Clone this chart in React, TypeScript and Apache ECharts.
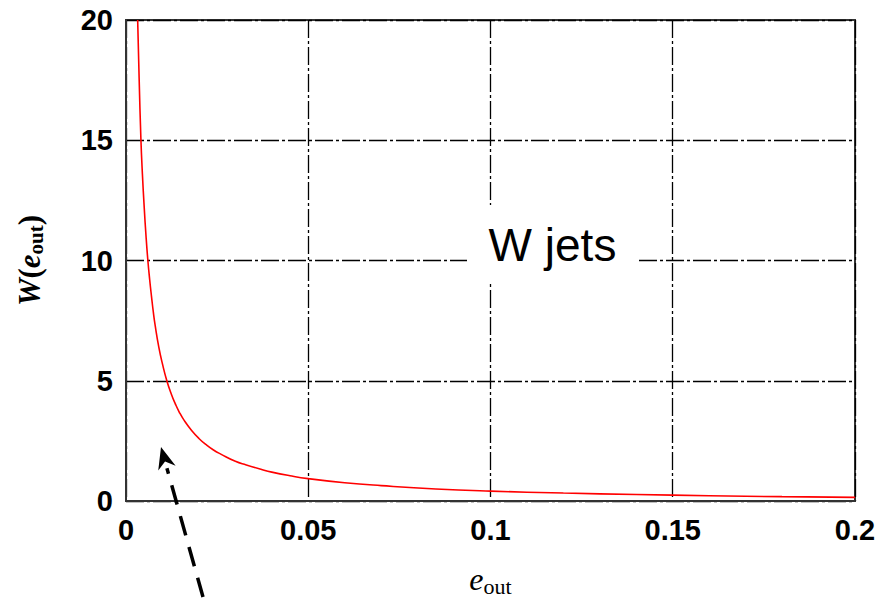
import React, { useEffect, useRef } from "react";
import * as echarts from "echarts";

const eOut: number[] = [0.0032, 0.0036, 0.0041, 0.0045, 0.005, 0.0055, 0.006, 0.0065, 0.007, 0.0075, 0.008, 0.009, 0.01, 0.0112, 0.0125, 0.0135, 0.0146, 0.016, 0.018, 0.02, 0.022, 0.024, 0.026, 0.03, 0.033, 0.037, 0.04, 0.045, 0.05, 0.06, 0.07, 0.085, 0.1, 0.12, 0.14, 0.16, 0.18, 0.2];
const wValues: number[] = [20, 17.6, 15, 13.6, 12.2, 11, 10, 9.2, 8.5, 7.85, 7.3, 6.4, 5.7, 5, 4.42, 4.05, 3.7, 3.34, 2.93, 2.6, 2.34, 2.12, 1.95, 1.65, 1.5, 1.32, 1.2, 1.05, 0.93, 0.76, 0.64, 0.5, 0.41, 0.33, 0.27, 0.22, 0.18, 0.15];
const xTicks = { min: 0, max: 0.2, interval: 0.05 };
const yTicks = { min: 0, max: 20, interval: 5 };
const annotation = "W jets";

export default function App() {
  const ref = useRef<HTMLDivElement>(null);
  useEffect(() => {
    if (!ref.current) return;
    const chart = echarts.init(ref.current, null, { renderer: "svg" });
    const gridLine = { show: true, lineStyle: { color: "#000", width: 1.3, type: [18, 3, 3, 3] as any } };
    const tip = [161, 447];
    const tail = [203, 597];
    const dx = tip[0] - tail[0], dy = tip[1] - tail[1];
    const len = Math.hypot(dx, dy);
    const ux = dx / len, uy = dy / len;
    const px = -uy, py = ux;
    const hl = 22, hw = 9;
    const base = [tip[0] - hl * ux, tip[1] - hl * uy];
    const notch = [tip[0] - 15 * ux, tip[1] - 15 * uy];
    chart.setOption({
      animation: false,
      backgroundColor: "#fff",
      grid: { left: 126, right: 39, top: 20, bottom: 104, show: true, borderColor: "#333", borderWidth: 2, backgroundColor: "transparent" },
      xAxis: {
        type: "value",
        min: xTicks.min,
        max: xTicks.max,
        interval: xTicks.interval,
        axisLine: { show: true, lineStyle: { color: "#333", width: 2 } },
        axisTick: { show: false },
        splitLine: gridLine,
        axisLabel: { color: "#000", fontSize: 29, fontWeight: "bold", fontFamily: "Liberation Sans", margin: 14 },
        name: "{e|e}{sub|out}",
        nameLocation: "middle",
        nameGap: 60,
        nameTextStyle: {
          rich: {
            e: { fontFamily: "Liberation Serif", fontStyle: "italic", fontSize: 32, color: "#000" },
            sub: { fontFamily: "Liberation Serif", fontSize: 22, color: "#000", padding: [14, 0, 0, 0] },
          },
        },
      },
      yAxis: {
        type: "value",
        min: yTicks.min,
        max: yTicks.max,
        interval: yTicks.interval,
        axisLine: { show: true, lineStyle: { color: "#333", width: 2 } },
        axisTick: { show: false },
        splitLine: gridLine,
        axisLabel: { color: "#000", fontSize: 29, fontWeight: "bold", fontFamily: "Liberation Sans", margin: 13 },
        name: "{w|W}{p|(}{e|e}{sub|out}{p|)}",
        nameLocation: "middle",
        nameGap: 80,
        nameTextStyle: {
          rich: {
            w: { fontFamily: "Liberation Serif", fontStyle: "italic", fontWeight: "bold", fontSize: 31, color: "#000" },
            p: { fontFamily: "Liberation Serif", fontWeight: "bold", fontSize: 31, color: "#000" },
            e: { fontFamily: "Liberation Serif", fontStyle: "italic", fontWeight: "bold", fontSize: 31, color: "#000" },
            sub: { fontFamily: "Liberation Serif", fontWeight: "bold", fontSize: 21, color: "#000", padding: [12, 0, 0, 0] },
          },
        },
      },
      series: [
        {
          type: "line",
          data: eOut.map((e, i) => [e, wValues[i]]),
          smooth: 0.5,
          showSymbol: false,
          lineStyle: { color: "#ff0000", width: 1.6 },
          z: 5,
        },
      ],
      graphic: [
        { type: "rect", z: 100, shape: { x: 467, y: 205, width: 171, height: 77 }, style: { fill: "#fff" } },
        {
          type: "text",
          z: 101,
          x: 552.5,
          y: 245,
          style: { text: annotation, fontSize: 46, fontFamily: "Liberation Sans", fill: "#000", align: "center", verticalAlign: "middle" },
        },
        {
          type: "line",
          z: 100,
          shape: { x1: tail[0], y1: tail[1], x2: base[0], y2: base[1] },
          style: { stroke: "#000", lineWidth: 3.5, lineDash: [20, 12] },
        },
        {
          type: "polygon",
          z: 100,
          shape: {
            points: [
              tip,
              [base[0] + hw * px, base[1] + hw * py],
              notch,
              [base[0] - hw * px, base[1] - hw * py],
            ],
          },
          style: { fill: "#000" },
        },
      ],
    });
    return () => chart.dispose();
  }, []);
  return <div ref={ref} style={{ position: "fixed", left: 0, top: 0, width: 894, height: 605 }} />;
}
